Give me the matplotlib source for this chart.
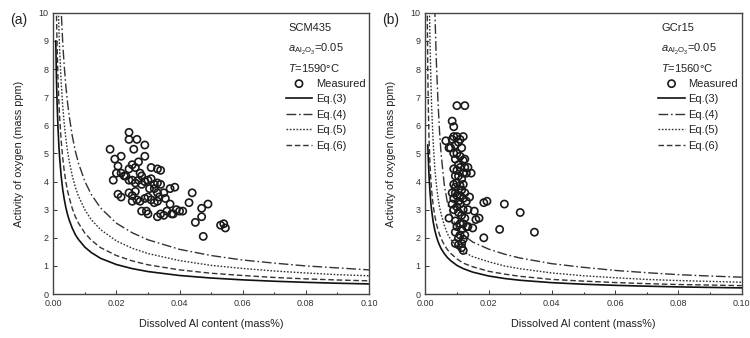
import numpy as np
import matplotlib
matplotlib.use('Agg')
import matplotlib.pyplot as plt

plt.rcParams['font.family'] = ['Liberation Sans', 'DejaVu Sans']
plt.rcParams['mathtext.fontset'] = 'custom'
plt.rcParams['mathtext.rm'] = 'Liberation Sans'
plt.rcParams['mathtext.it'] = 'Liberation Sans:italic'

nan = np.nan

# curve x positions (mass% Al)
x_curve = [0.0006, 0.0008, 0.001, 0.0012, 0.0015, 0.0018, 0.002, 0.0025, 0.003, 0.0035,
           0.004, 0.0045, 0.005, 0.006, 0.007, 0.008, 0.01, 0.012, 0.015, 0.02,
           0.025, 0.03, 0.04, 0.05, 0.06, 0.07, 0.08, 0.09, 0.1]

# (a) SCM435, 1590 C
a_eq3 = [nan, 9.0, 7.74, 6.85, 5.91, 5.23, 4.88, 4.20, 3.72, 3.36,
         3.07, 2.84, 2.65, 2.35, 2.11, 1.94, 1.67, 1.48, 1.27, 1.05,
         0.905, 0.80, 0.66, 0.57, 0.505, 0.456, 0.417, 0.385, 0.36]
a_eq4 = [nan, nan, nan, nan, nan, nan, 11.7, 10.1, 8.94, 8.07,
         7.38, 6.83, 6.37, 5.64, 5.08, 4.65, 4.01, 3.55, 3.06, 2.52,
         2.18, 1.93, 1.59, 1.37, 1.21, 1.10, 1.00, 0.93, 0.86]
a_eq5 = [nan, nan, nan, 12.3, 10.6, 9.39, 8.76, 7.55, 6.68, 6.03,
         5.52, 5.10, 4.76, 4.21, 3.80, 3.48, 3.00, 2.65, 2.29, 1.89,
         1.63, 1.44, 1.19, 1.02, 0.91, 0.82, 0.75, 0.69, 0.65]
a_eq6 = [nan, 11.7, 10.06, 8.9, 7.68, 6.80, 6.34, 5.46, 4.84, 4.36,
         3.99, 3.69, 3.45, 3.05, 2.75, 2.52, 2.17, 1.92, 1.65, 1.37,
         1.18, 1.04, 0.86, 0.74, 0.66, 0.59, 0.54, 0.50, 0.47]

a_al = [0.024, 0.024, 0.0265, 0.029, 0.0255, 0.029, 0.018, 0.0195, 0.0215, 0.0205,
        0.019, 0.020, 0.0215, 0.023, 0.024, 0.025, 0.026, 0.027, 0.0275, 0.028,
        0.024, 0.025, 0.026, 0.028, 0.029, 0.030, 0.031, 0.031, 0.033, 0.034,
        0.032, 0.033, 0.034, 0.0305, 0.032, 0.0205, 0.0215, 0.024, 0.025, 0.026,
        0.0265, 0.0275, 0.025, 0.029, 0.030, 0.031, 0.033, 0.0335, 0.035, 0.0355,
        0.037, 0.0385, 0.028, 0.030, 0.0295, 0.032, 0.033, 0.034, 0.035, 0.036,
        0.037, 0.0375, 0.038, 0.039, 0.040, 0.041, 0.043, 0.044, 0.045, 0.047,
        0.047, 0.049, 0.0475, 0.053, 0.054, 0.0545, 0.033, 0.027, 0.0225]
a_ao = [5.75, 5.5, 5.5, 5.3, 5.15, 4.9, 5.15, 4.8, 4.9, 4.55,
        4.05, 4.3, 4.3, 4.2, 4.45, 4.6, 4.5, 4.7, 4.3, 4.2,
        4.05, 4.05, 3.95, 3.9, 4.0, 4.05, 4.1, 4.5, 4.45, 4.4,
        3.9, 3.95, 3.9, 3.75, 3.75, 3.55, 3.45, 3.6, 3.5, 3.65,
        3.35, 3.3, 3.3, 3.4, 3.45, 3.35, 3.3, 3.45, 3.6, 3.4,
        3.75, 3.8, 2.95, 2.85, 2.95, 3.25, 2.75, 2.85, 2.8, 2.95,
        3.2, 2.85, 2.85, 3.0, 2.95, 2.95, 3.25, 3.6, 2.55, 2.75,
        3.05, 3.2, 2.05, 2.45, 2.5, 2.35, 3.6, 4.05, 4.2]

# (b) GCr15, 1560 C
b_eq3 = [nan, 5.3, 4.74, 4.19, 3.62, 3.20, 2.99, 2.57, 2.28, 2.06,
         1.88, 1.74, 1.62, 1.44, 1.30, 1.19, 1.02, 0.905, 0.78, 0.643,
         0.554, 0.49, 0.405, 0.35, 0.31, 0.28, 0.255, 0.236, 0.22]
b_eq4 = [nan, nan, nan, nan, nan, nan, nan, nan, 10.2, 8.3,
         6.9, 5.8, 5.0, 3.9, 3.25, 2.85, 2.35, 2.1, 1.85, 1.6,
         1.42, 1.28, 1.08, 0.95, 0.84, 0.76, 0.69, 0.64, 0.60]
b_eq5 = [nan, nan, nan, 11.0, 9.0, 7.5, 6.7, 5.4, 4.5, 3.9,
         3.45, 3.1, 2.85, 2.45, 2.15, 1.95, 1.7, 1.5, 1.33, 1.15,
         1.0, 0.9, 0.75, 0.65, 0.58, 0.52, 0.48, 0.45, 0.42]
b_eq6 = [10.5, 8.0, 6.45, 5.5, 4.6, 4.0, 3.7, 3.15, 2.8, 2.5,
         2.3, 2.12, 1.98, 1.75, 1.58, 1.45, 1.25, 1.1, 0.97, 0.81,
         0.71, 0.63, 0.52, 0.46, 0.41, 0.37, 0.34, 0.32, 0.30]

b_al = [0.010, 0.0125, 0.0085, 0.009, 0.0065, 0.0075, 0.0075, 0.014, 0.0145, 0.0155,
        0.016, 0.017, 0.0185, 0.0195, 0.0185, 0.0235, 0.025, 0.030, 0.0345, 0.0135,
        0.015, 0.008, 0.0085, 0.009, 0.0095, 0.010, 0.0105, 0.011, 0.012, 0.0115,
        0.009, 0.0095, 0.010, 0.011, 0.0105, 0.009, 0.010, 0.011, 0.012, 0.0125,
        0.0125, 0.013, 0.0135, 0.0095, 0.0105, 0.0115, 0.012, 0.009, 0.0095, 0.010,
        0.011, 0.0115, 0.012, 0.0085, 0.009, 0.0095, 0.010, 0.0105, 0.011, 0.012,
        0.0125, 0.013, 0.0085, 0.009, 0.010, 0.0105, 0.011, 0.0115, 0.012, 0.0125,
        0.0135, 0.0095, 0.010, 0.011, 0.0115, 0.012, 0.013, 0.0095, 0.0105, 0.011,
        0.012, 0.0125, 0.0095, 0.0105, 0.0115, 0.012, 0.0115]
b_ao = [6.7, 6.7, 6.15, 5.95, 5.45, 5.2, 2.7, 3.45, 4.3, 2.95,
        2.65, 2.7, 3.25, 3.3, 2.0, 2.3, 3.2, 2.9, 2.2, 2.4,
        2.35, 5.2, 5.5, 5.6, 5.3, 5.6, 5.4, 5.5, 5.6, 5.2,
        5.0, 4.8, 5.0, 4.9, 4.6, 4.45, 4.4, 4.5, 4.75, 4.8,
        4.5, 4.3, 4.5, 4.2, 4.2, 4.1, 4.3, 3.9, 3.8, 3.95,
        3.85, 3.7, 3.9, 3.6, 3.4, 3.6, 3.5, 3.3, 3.5, 3.4,
        3.6, 3.3, 3.2, 3.0, 3.1, 2.9, 3.2, 2.8, 3.0, 2.7,
        3.0, 2.6, 2.4, 2.5, 2.3, 2.5, 2.4, 2.2, 2.0, 2.1,
        1.95, 2.1, 1.8, 1.75, 1.8, 1.55, 1.65]

panels = [
    ('(a)', 'SCM435', '0.05', '1590', a_al, a_ao, [a_eq3, a_eq4, a_eq5, a_eq6]),
    ('(b)', 'GCr15', '0.05', '1560', b_al, b_ao, [b_eq3, b_eq4, b_eq5, b_eq6]),
]

styles = [
    dict(color='#111111', lw=1.2, ls='-'),
    dict(color='#333333', lw=1.0, ls=(0, (7, 2, 1.2, 2))),
    dict(color='#333333', lw=1.0, ls=(0, (1.2, 1.2))),
    dict(color='#333333', lw=1.0, ls=(0, (4, 2))),
]
eq_names = ['Eq.(3)', 'Eq.(4)', 'Eq.(5)', 'Eq.(6)']

fig = plt.figure(figsize=(7.5, 3.38), dpi=100)
axes_pos = [[0.071, 0.13, 0.421, 0.832], [0.567, 0.13, 0.422, 0.832]]

for pos, (tag, steel, a_val, temp, al, ao, curves) in zip(axes_pos, panels):
    ax = fig.add_axes(pos)
    ax.scatter(al, ao, s=27, facecolors='none', edgecolors='#1a1a1a',
               linewidths=1.2, label='Measured', zorder=3)
    for yv, st, name in zip(curves, styles, eq_names):
        ax.plot(x_curve, yv, label=name, **st)

    ax.set_xlim(0, 0.1)
    ax.set_ylim(0, 10)
    ax.set_xticks(np.arange(0, 0.101, 0.02))
    ax.set_xticks(np.arange(0, 0.101, 0.01), minor=True)
    ax.set_yticks(range(0, 11))
    ax.xaxis.set_major_formatter(matplotlib.ticker.FormatStrFormatter('%.2f'))
    ax.tick_params(direction='in', labelsize=6.5, length=3, width=0.7, colors='#333333')
    ax.tick_params(which='minor', direction='in', length=1.8, width=0.6)
    for sp in ax.spines.values():
        sp.set_linewidth(1.0)
        sp.set_color('#444444')
    ax.set_xlabel('Dissolved Al content (mass%)', fontsize=7.8, color='#222222', labelpad=8)
    ax.set_ylabel('Activity of oxygen (mass ppm)', fontsize=7.8, color='#222222', labelpad=10)

    fig.text(pos[0] - 0.058, 0.93, tag, fontsize=10, color='#222222')

    ax.text(0.745, 0.965, steel, transform=ax.transAxes, fontsize=8, va='top', color='#222222')
    ax.text(0.745, 0.895, r'$\mathit{a}_{\mathrm{Al_2O_3}}$=' + a_val, transform=ax.transAxes,
            fontsize=8, va='top', color='#222222')
    ax.text(0.745, 0.825, r'$\mathit{T}$=' + temp + '°C', transform=ax.transAxes,
            fontsize=8, va='top', color='#222222')
    leg = ax.legend(loc='upper left', bbox_to_anchor=(0.715, 0.79), frameon=False,
                    fontsize=8, handlelength=2.4, handletextpad=0.3, labelspacing=0.5,
                    borderpad=0.1)
    for t in leg.get_texts():
        t.set_color('#222222')

fig.savefig('out.png', dpi=100)
